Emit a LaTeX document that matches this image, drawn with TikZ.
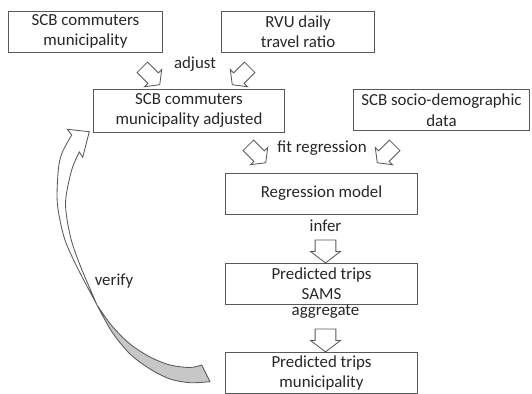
\documentclass[tikz,border=0pt]{standalone}
\usepackage{fontspec}
\setmainfont{Carlito}
\usetikzlibrary{shapes.arrows,positioning}

\begin{document}
\begin{tikzpicture}[
    x=0.025cm, y=-0.025cm,
    every node/.style={font=\fontsize{12}{14.6}\selectfont, text=black!85},
    box/.style={draw=black!65, line width=0.7pt, align=center, minimum height=1.025cm, inner sep=0pt},
    blockarrow/.style={single arrow, draw=black!65, fill=white, line width=0.6pt, inner sep=0pt,
        inner ysep=7.1pt, single arrow head extend=3.2pt, single arrow tip angle=105, minimum height=16.3pt},
    tiltarrow/.style={blockarrow, inner ysep=5pt, single arrow head extend=3.3pt, minimum height=17.5pt},
    steplabel/.style={anchor=base, inner sep=0pt}
]
\useasboundingbox (0,0) rectangle (532,394);

% Input data
\node[box, minimum width=3.825cm] (com) at (85.5,31.5) {SCB commuters\\municipality};
\node[box, minimum width=3.8cm] (rvu) at (298,31.5) {RVU daily\\travel ratio};
\node[box, minimum width=4.75cm, minimum height=1.075cm] (adj) at (189,110.5) {SCB commuters\\municipality adjusted};
\node[box, minimum width=4.375cm] (socio) at (441.5,110) {SCB socio-demographic\\data};

% Model chain
\node[box, minimum width=4.775cm] (reg) at (321.5,193.5) {Regression model};
\node[box, minimum width=4.775cm] (sams) at (321.5,283.5) {Predicted trips\\SAMS};
\node[box, minimum width=4.775cm] (mun) at (321.5,373) {Predicted trips\\municipality};

% Block arrows
\node[tiltarrow, rotate=-45] (a1) at (149,74) {};
\node[tiltarrow, rotate=-135] (a2) at (243,74) {};
\node[tiltarrow, rotate=-45] (a3) at (255,152) {};
\node[tiltarrow, rotate=-135] (a4) at (388,152) {};
\node[blockarrow, rotate=-90] (a5) at (325.5,247.5) {};
\node[blockarrow, rotate=-90] (a6) at (325.5,336.5) {};

% Labels
\node[steplabel] (ladjust) at (195,68.3) {adjust};
\node[steplabel] (lfit) at (322,152.3) {fit regression};
\node[steplabel] (linfer) at (325.5,231.7) {infer};
\node[steplabel] (laggr) at (325.5,315) {aggregate};
\node[steplabel] (lverify) at (114,285) {verify};

% Curved verify arrow (twisted ribbon)
\filldraw[draw=black!65, fill=black!22, line width=0.6pt]
    plot[smooth] coordinates {(97,305) (112,326) (130,344) (150,357) (170,365) (190,367.5) (201.7,365)}
    -- (210,381.7)
    -- plot[smooth] coordinates {(210,381.7) (190,382.7) (170,379) (150,369) (130,354) (112,332) (97,305)}
    -- cycle;
\filldraw[draw=black!65, fill=white, line width=0.6pt]
    (71.7,135) -- (67.3,129.3) -- (89.3,131.7) -- (82.7,157.3) -- (79.3,152)
    -- plot[smooth] coordinates {(79.3,152) (71.7,170) (65.5,203) (70.5,237) (80,265) (97,305)}
    -- plot[smooth] coordinates {(97,305) (76,265) (64,237) (57.3,203) (58.3,170) (62,153) (71.7,135)}
    -- cycle;
\end{tikzpicture}
\end{document}
